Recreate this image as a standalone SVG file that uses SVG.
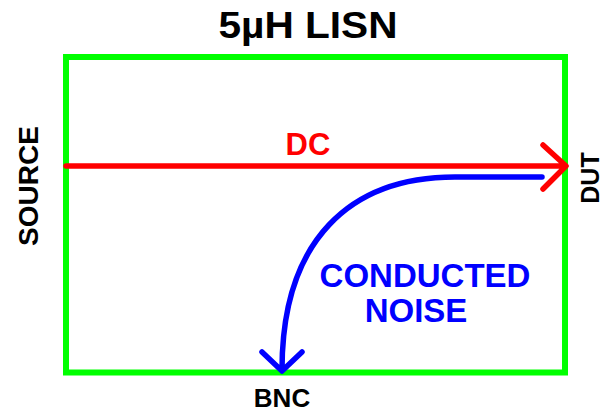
<svg xmlns="http://www.w3.org/2000/svg" width="612" height="415" viewBox="0 0 612 415">
<style>
text{font-family:"Liberation Sans",Arial,sans-serif;font-weight:bold;text-anchor:middle}
.k{fill:#000}
.line{fill:none;stroke-width:5.5;stroke-linecap:round;stroke-linejoin:round}
</style>
<rect width="612" height="415" fill="#fff"/>
<g id="title"><text class="k" x="308" y="38" font-size="36" textLength="179" lengthAdjust="spacingAndGlyphs">5µH LISN</text></g>
<g id="lisn"><rect x="66" y="57" width="499" height="315.5" fill="none" stroke="#00ff00" stroke-width="6"/></g>
<g id="source"><text class="k" x="0" y="0" font-size="28" transform="translate(38 186) rotate(-90)">SOURCE</text></g>
<g id="dut"><text class="k" x="0" y="0" font-size="25" transform="translate(599 178) rotate(-90)">DUT</text></g>
<g id="bnc"><text class="k" x="282" y="407" font-size="26">BNC</text></g>
<g id="connectors">
<path class="line" stroke="#ff0000" d="M66 166 H565 M543 145 L566 166 L543 189"/>
<path class="line" stroke="#0000ff" d="M542 177 H455 C 350 177 282 240 282 370 M262 352 L282 371 L302 352"/>
</g>
<g id="labels">
<text x="308" y="155" font-size="31" fill="#ff0000">DC</text>
<text x="425" y="287" font-size="33" fill="#0000ff">CONDUCTED</text>
<text x="416" y="322" font-size="33" fill="#0000ff">NOISE</text>
</g>
</svg>
